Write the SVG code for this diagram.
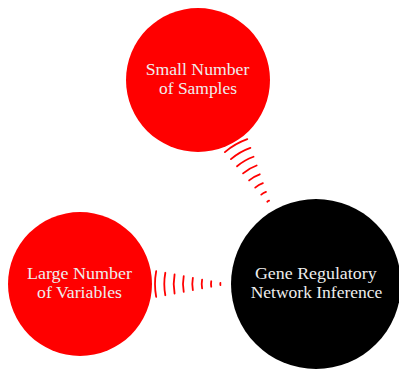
<svg xmlns="http://www.w3.org/2000/svg" xmlns:xlink="http://www.w3.org/1999/xlink" width="399" height="369" viewBox="0 0 399 369">
  <style>
    .red { fill: #ff0000; }
    .dark { fill: #000000; }
    .label { font-family: "Liberation Serif", "DejaVu Serif", serif; font-size: 16px; fill: #eeeeee; text-anchor: middle; }
    .wave { fill: none; stroke: #ff0000; stroke-width: 1.8; stroke-linecap: round; }
  </style>
  <defs>
    <!-- expanding waves, local origin at the centre of the inference node, spreading towards -x -->
    <g id="waves">
      <path class="wave" d="M -159.81 -12.94 A 71 71 0 0 0 -159.81 12.94"/>
      <path class="wave" d="M -150.67 -11.24 A 61.7 61.7 0 0 0 -150.67 11.24"/>
      <path class="wave" d="M -141.42 -9.53 A 52.3 52.3 0 0 0 -141.42 9.53"/>
      <path class="wave" d="M -132.28 -7.84 A 43 43 0 0 0 -132.28 7.84"/>
      <path class="wave" d="M -123.14 -6.14 A 33.7 33.7 0 0 0 -123.14 6.14"/>
      <path class="wave" d="M -113.89 -4.43 A 24.3 24.3 0 0 0 -113.89 4.43"/>
      <path class="wave" d="M -104.75 -2.73 A 15 15 0 0 0 -104.75 2.73"/>
      <path class="wave" d="M -95.6 -1.04 A 5.7 5.7 0 0 0 -95.6 1.04"/>
    </g>
  </defs>

  <g id="connectors">
    <use xlink:href="#waves" href="#waves" transform="translate(316 284)"/>
    <use xlink:href="#waves" href="#waves" transform="translate(316 284) rotate(60)"/>
  </g>

  <g id="samples">
    <circle class="red" cx="198" cy="80" r="72"/>
    <text class="label" x="197.5" y="74.5" textLength="103.7" lengthAdjust="spacingAndGlyphs">Small Number</text>
    <text class="label" x="198" y="93.5" textLength="78" lengthAdjust="spacingAndGlyphs">of Samples</text>
  </g>

  <g id="variables">
    <circle class="red" cx="80" cy="284" r="72"/>
    <text class="label" x="79.5" y="278.5" textLength="105" lengthAdjust="spacingAndGlyphs">Large Number</text>
    <text class="label" x="79.5" y="297.8" textLength="85" lengthAdjust="spacingAndGlyphs">of Variables</text>
  </g>

  <g id="inference">
    <circle class="dark" cx="316" cy="284" r="85"/>
    <text class="label" x="315.8" y="278.5" textLength="121.7" lengthAdjust="spacingAndGlyphs">Gene Regulatory</text>
    <text class="label" x="316.5" y="297.5" textLength="131.7" lengthAdjust="spacingAndGlyphs">Network Inference</text>
  </g>
</svg>
